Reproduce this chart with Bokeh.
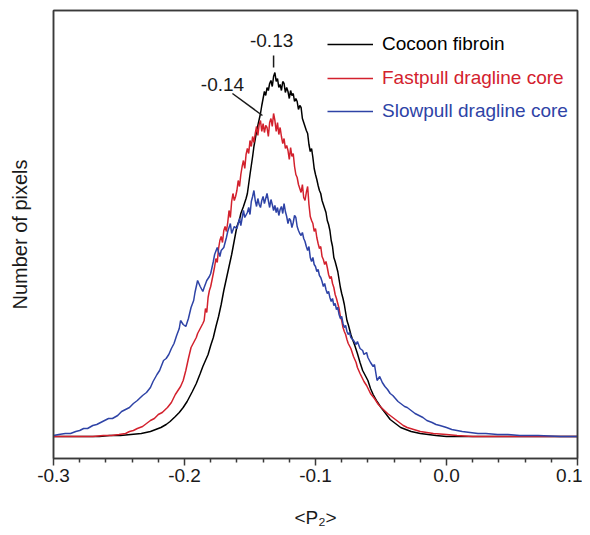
from bokeh.plotting import figure
from bokeh.models import Range1d, Legend, LegendItem, Label, FixedTicker, NumeralTickFormatter, LinearAxis
from bokeh.embed import file_html
from bokeh.resources import INLINE

# ---------------- data (counts in arbitrary units) ----------------
cocoon_x = [-0.300, -0.280, -0.265, -0.257, -0.249, -0.241, -0.233, -0.226, -0.222, -0.218, -0.214, -0.211,
            -0.207, -0.204, -0.201, -0.198, -0.196, -0.194, -0.191, -0.188, -0.186, -0.184, -0.182, -0.180,
            -0.178, -0.176, -0.174, -0.172, -0.170, -0.168, -0.166, -0.164, -0.163, -0.161, -0.160, -0.158,
            -0.157, -0.155, -0.153, -0.152, -0.150, -0.148, -0.147, -0.145, -0.144, -0.142, -0.141, -0.139,
            -0.138, -0.137, -0.136, -0.135, -0.134, -0.133, -0.132, -0.131, -0.130, -0.129, -0.128, -0.127,
            -0.126, -0.125, -0.124, -0.123, -0.122, -0.121, -0.120, -0.119, -0.118, -0.117, -0.116, -0.115,
            -0.114, -0.113, -0.112, -0.111, -0.110, -0.109, -0.108, -0.107, -0.106, -0.105, -0.104, -0.103,
            -0.102, -0.101, -0.100, -0.099, -0.098, -0.097, -0.096, -0.095, -0.094, -0.093, -0.092, -0.091,
            -0.090, -0.089, -0.088, -0.087, -0.086, -0.085, -0.084, -0.083, -0.082, -0.081, -0.080, -0.079,
            -0.078, -0.077, -0.076, -0.075, -0.074, -0.073, -0.072, -0.070, -0.068, -0.066, -0.064, -0.062,
            -0.060, -0.058, -0.056, -0.053, -0.050, -0.047, -0.043, -0.039, -0.035, -0.031, -0.027, -0.020,
            -0.014, -0.008, 0.000, 0.050, 0.100]
cocoon_y = [0, 0, 0, 1, 1, 2, 3, 5, 7, 9, 12, 15,
            20, 24, 29, 35, 40, 45, 53, 63, 70, 76, 82, 91,
            99, 110, 120, 132, 146, 158, 170, 182, 189, 203, 210, 217,
            223, 230, 238, 243, 262, 280, 290, 305, 311, 323, 331, 345,
            341, 349, 346, 353, 356, 350, 360, 364, 355, 358, 349, 352,
            346, 355, 353, 344, 349, 345, 338, 346, 341, 343, 335, 338,
            335, 327, 331, 329, 318, 314, 310, 306, 303, 292, 285, 288,
            279, 268, 262, 257, 251, 246, 243, 236, 232, 228, 224, 216,
            212, 206, 196, 190, 179, 175, 170, 165, 157, 149, 143, 138,
            132, 124, 116, 112, 107, 102, 98, 91, 83, 74, 66, 61,
            56, 48, 42, 35, 29, 24, 17, 13, 9, 7, 5, 3,
            2, 1, 0, 0, 0]

fast_x = [-0.300, -0.270, -0.262, -0.256, -0.250, -0.245, -0.242, -0.239, -0.236, -0.232, -0.229, -0.226,
          -0.223, -0.220, -0.217, -0.213, -0.210, -0.207, -0.205, -0.203, -0.201, -0.199, -0.197, -0.195,
          -0.193, -0.191, -0.190, -0.188, -0.186, -0.185, -0.184, -0.183, -0.182, -0.181, -0.180, -0.178,
          -0.177, -0.176, -0.175, -0.174, -0.173, -0.172, -0.171, -0.170, -0.169, -0.168, -0.167, -0.166,
          -0.165, -0.164, -0.163, -0.162, -0.161, -0.160, -0.159, -0.158, -0.157, -0.156, -0.155, -0.154,
          -0.153, -0.152, -0.151, -0.150, -0.149, -0.148, -0.147, -0.146, -0.145, -0.144, -0.143, -0.142,
          -0.141, -0.140, -0.139, -0.138, -0.137, -0.136, -0.135, -0.134, -0.133, -0.132, -0.131, -0.130,
          -0.129, -0.128, -0.127, -0.126, -0.125, -0.124, -0.123, -0.122, -0.121, -0.120, -0.119, -0.118,
          -0.117, -0.116, -0.115, -0.114, -0.113, -0.112, -0.111, -0.110, -0.109, -0.108, -0.107, -0.106,
          -0.105, -0.104, -0.103, -0.102, -0.101, -0.100, -0.099, -0.098, -0.097, -0.096, -0.095, -0.094,
          -0.093, -0.092, -0.091, -0.090, -0.089, -0.088, -0.087, -0.086, -0.085, -0.084, -0.083, -0.082,
          -0.081, -0.080, -0.079, -0.078, -0.077, -0.076, -0.075, -0.073, -0.071, -0.069, -0.068, -0.066,
          -0.063, -0.061, -0.058, -0.055, -0.052, -0.049, -0.045, -0.041, -0.037, -0.033, -0.030, -0.025,
          -0.020, -0.015, -0.010, 0.000, 0.008, 0.020, 0.100]
fast_y = [0, 0, 1, 1, 2, 3, 5, 6, 8, 10, 13, 16,
          18, 22, 24, 29, 34, 42, 46, 50, 56, 66, 78, 89,
          94, 99, 103, 108, 113, 116, 128, 124, 139, 146, 150, 163,
          170, 178, 174, 188, 196, 200, 194, 206, 210, 205, 214, 226,
          219, 235, 243, 236, 240, 246, 256, 250, 262, 270, 276, 268,
          282, 288, 283, 296, 290, 300, 294, 303, 310, 301, 312, 316,
          305, 313, 304, 311, 309, 300, 314, 318, 310, 323, 316, 305,
          314, 302, 309, 300, 293, 298, 288, 291, 286, 277, 289, 280,
          283, 270, 262, 259, 252, 248, 244, 252, 239, 236, 244, 250,
          232, 220, 216, 213, 205, 208, 199, 193, 188, 190, 180, 177,
          172, 175, 169, 162, 158, 160, 153, 149, 142, 138, 133, 128,
          120, 116, 109, 105, 102, 97, 93, 88, 80, 74, 69, 63,
          55, 51, 43, 38, 32, 28, 23, 19, 15, 11, 9, 7,
          5, 4, 3, 2, 1, 0, 0]

slow_x = [-0.300, -0.296, -0.291, -0.287, -0.283, -0.280, -0.277, -0.274, -0.270, -0.267, -0.264, -0.261,
          -0.258, -0.255, -0.251, -0.248, -0.245, -0.242, -0.239, -0.236, -0.232, -0.229, -0.226, -0.224,
          -0.221, -0.219, -0.216, -0.214, -0.212, -0.210, -0.208, -0.206, -0.204, -0.203, -0.201, -0.199,
          -0.197, -0.195, -0.193, -0.192, -0.190, -0.188, -0.186, -0.185, -0.183, -0.181, -0.180, -0.178,
          -0.177, -0.175, -0.173, -0.172, -0.170, -0.168, -0.167, -0.165, -0.164, -0.162, -0.160, -0.158,
          -0.157, -0.155, -0.154, -0.152, -0.151, -0.150, -0.149, -0.148, -0.147, -0.146, -0.145, -0.144,
          -0.143, -0.142, -0.141, -0.140, -0.139, -0.138, -0.137, -0.136, -0.135, -0.134, -0.133, -0.132,
          -0.131, -0.130, -0.129, -0.128, -0.127, -0.126, -0.125, -0.124, -0.123, -0.122, -0.121, -0.120,
          -0.119, -0.118, -0.117, -0.116, -0.115, -0.114, -0.113, -0.112, -0.111, -0.110, -0.109, -0.108,
          -0.107, -0.106, -0.105, -0.104, -0.103, -0.102, -0.101, -0.100, -0.099, -0.098, -0.097, -0.096,
          -0.095, -0.094, -0.093, -0.092, -0.091, -0.090, -0.089, -0.088, -0.087, -0.086, -0.085, -0.084,
          -0.083, -0.082, -0.081, -0.080, -0.079, -0.078, -0.077, -0.076, -0.075, -0.074, -0.073, -0.071,
          -0.069, -0.068, -0.066, -0.064, -0.063, -0.061, -0.060, -0.058, -0.056, -0.055, -0.053, -0.051,
          -0.049, -0.047, -0.045, -0.043, -0.041, -0.039, -0.037, -0.035, -0.032, -0.030, -0.027, -0.024,
          -0.021, -0.018, -0.015, -0.011, -0.008, -0.005, 0.000, 0.004, 0.008, 0.012, 0.018, 0.024,
          0.030, 0.039, 0.047, 0.056, 0.070, 0.087, 0.100]
slow_y = [1, 2, 3, 3, 5, 6, 8, 8, 11, 12, 14, 16,
          18, 18, 21, 25, 27, 29, 33, 36, 41, 44, 49, 55,
          62, 66, 76, 78, 82, 88, 93, 101, 108, 116, 112, 110,
          118, 129, 136, 144, 156, 150, 145, 149, 156, 160, 163, 175,
          182, 189, 180, 186, 189, 199, 205, 213, 203, 210, 208, 218,
          211, 226, 219, 224, 229, 222, 235, 240, 246, 236, 230, 238,
          232, 229, 236, 240, 233, 238, 243, 236, 229, 237, 232, 226,
          231, 224, 229, 221, 227, 230, 223, 233, 225, 220, 213, 218,
          216, 209, 214, 221, 219, 210, 206, 203, 201, 204, 198, 195,
          190, 186, 190, 179, 175, 179, 172, 170, 165, 167, 161, 159,
          155, 150, 153, 147, 143, 145, 139, 135, 138, 131, 133, 127,
          129, 122, 118, 120, 113, 109, 111, 105, 102, 104, 99, 96,
          92, 95, 88, 86, 82, 84, 79, 74, 70, 72, 56, 60,
          54, 50, 47, 43, 41, 38, 35, 33, 30, 29, 26, 23,
          21, 19, 16, 14, 12, 11, 9, 7, 6, 5, 4, 3,
          3, 2, 2, 1, 1, 0, 0]

series_names = ["Cocoon fibroin", "Fastpull dragline core", "Slowpull dragline core"]
series_colors = ["#000000", "#d3212d", "#2e43a6"]

x_ticks = [-0.3, -0.2, -0.1, 0.0, 0.1]
x_minor = [-0.28, -0.26, -0.24, -0.22, -0.18, -0.16, -0.14, -0.12, -0.08, -0.06, -0.04, -0.02,
           0.02, 0.04, 0.06, 0.08]

peak_labels = ["-0.13", "-0.14"]
peak_x = [-0.1335, -0.171]
peak_y = [396, 352]

FONT = "Liberation Sans"
FRAME = "#3a3a3a"

# ---------------- figure ----------------
p = figure(width=582, height=535, output_backend="svg", toolbar_location=None,
           x_range=Range1d(-0.3, 0.1), y_range=Range1d(-22, 426),
           min_border_left=53, min_border_right=5, min_border_top=10, min_border_bottom=77)
p.background_fill_color = "white"
p.border_fill_color = "white"
p.grid.visible = False
p.outline_line_color = FRAME
p.outline_line_width = 1.5

xa = p.xaxis[0]
xa.ticker = FixedTicker(ticks=x_ticks, minor_ticks=x_minor)
xa.formatter = NumeralTickFormatter(format="0.0")
xa.axis_line_color = FRAME
xa.axis_line_width = 1.5
xa.major_tick_line_color = FRAME
xa.major_tick_line_width = 1.5
xa.minor_tick_line_color = FRAME
xa.minor_tick_line_width = 1.5
xa.major_tick_in = 0
xa.major_tick_out = 7
xa.minor_tick_in = 0
xa.minor_tick_out = 4
xa.major_label_standoff = 3
xa.major_label_text_font = FONT
xa.major_label_text_font_size = "19px"
xa.major_label_text_color = "#1a1a1a"
xa.axis_label = "<P\u2082>"
xa.axis_label_text_font = FONT
xa.axis_label_text_font_size = "19px"
xa.axis_label_text_font_style = "normal"
xa.axis_label_text_color = "#1a1a1a"
xa.axis_label_standoff = 22

ya = p.yaxis[0]
ya.ticker = FixedTicker(ticks=[])
ya.axis_line_color = FRAME
ya.axis_line_width = 1.5
ya.major_tick_line_color = None
ya.minor_tick_line_color = None
ya.axis_label = "Number of pixels"
ya.axis_label_text_font = FONT
ya.axis_label_text_font_size = "20px"
ya.axis_label_text_font_style = "normal"
ya.axis_label_text_color = "#1a1a1a"
ya.axis_label_standoff = 23

# frame lines on top and right (plain axes without ticks or labels)
for side in ["above", "right"]:
    ax = LinearAxis(ticker=FixedTicker(ticks=[]), axis_line_color=FRAME, axis_line_width=1.5,
                    major_tick_line_color=None, minor_tick_line_color=None,
                    major_tick_out=0, minor_tick_out=0, major_label_standoff=0,
                    major_label_text_font_size="0px")
    p.add_layout(ax, side)

renderers = []
for xs, ys, c in zip([cocoon_x, fast_x, slow_x], [cocoon_y, fast_y, slow_y], series_colors):
    renderers.append(p.line(xs, ys, line_color=c, line_width=1.5))

legend_y = [403, 369, 336]
for name, r, c, ly in zip(series_names, renderers, series_colors, legend_y):
    lg = Legend(items=[LegendItem(label=name, renderers=[r])], location=(274, ly),
                orientation="vertical", padding=0, margin=0, spacing=0,
                glyph_width=46, glyph_height=20, label_height=20, label_standoff=9,
                label_text_font=FONT, label_text_font_size="19px", label_text_color=c,
                border_line_color=None, background_fill_alpha=0.0)
    p.add_layout(lg)

for t, lx, ly in zip(peak_labels, peak_x, peak_y):
    p.add_layout(Label(x=lx, y=ly, text=t, text_align="center", text_baseline="middle",
                       text_font=FONT, text_font_size="19px", text_color="#1a1a1a"))

# marker tick above the -0.13 peak and leader line to the -0.14 peak
p.segment(x0=[-0.132, -0.1634], y0=[381, 343], x1=[-0.132, -0.1405], y1=[369, 321],
          line_color="#1a1a1a", line_width=1.5)

open("out.html", "w").write(file_html(p, INLINE))
